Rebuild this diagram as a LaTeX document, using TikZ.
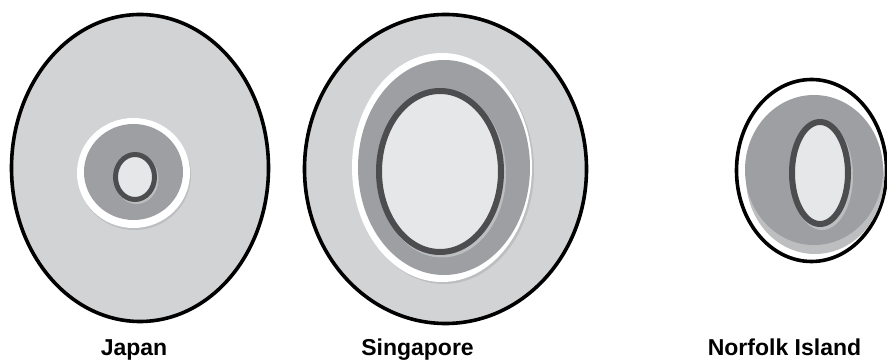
\documentclass[tikz,border=0pt]{standalone}
\usepackage{fontspec}
\setmainfont{Liberation Sans}
\definecolor{discgray}{RGB}{209,211,212}
\definecolor{midgray}{RGB}{157,159,162}
\definecolor{shadegray}{RGB}{188,190,192}
\definecolor{ringgray}{RGB}{77,77,79}
\definecolor{coregray}{RGB}{230,231,232}

\begin{document}
\begin{tikzpicture}[x=1pt, y=-1pt,
    outerdisc/.style={draw=black, line width=3.6pt, fill=discgray},
    whitedisc/.style={fill=white},
    shadedisc/.style={fill=shadegray},
    middisc/.style={fill=midgray},
    corering/.style={draw=ringgray, fill=coregray},
    country/.style={font=\fontsize{23}{26}\selectfont\bfseries, anchor=base}]
  \useasboundingbox (0,0) rectangle (887,363);
  \clip (0,0) rectangle (887,363);

  % Japan
  \draw[outerdisc] (140,168) ellipse [x radius=128.5, y radius=153.5];
  \fill[shadedisc] (134.5,175) ellipse [x radius=56.5, y radius=55];
  \fill[whitedisc] (133.5,173) ellipse [x radius=56.5, y radius=55];
  \fill[middisc] (133.5,172) ellipse [x radius=49.5, y radius=48];
  \fill[shadedisc] (136.5,179) ellipse [x radius=22, y radius=25];
  \draw[corering, line width=5pt] (135,177) ellipse [x radius=19.5, y radius=22.5];

  % Singapore
  \draw[outerdisc] (445.5,169) ellipse [x radius=141, y radius=154.5];
  \fill[shadedisc] (444,169.5) ellipse [x radius=90, y radius=114.5];
  \fill[whitedisc] (442,167.5) ellipse [x radius=90, y radius=114.5];
  \fill[middisc] (444,167.5) ellipse [x radius=86, y radius=107.5];
  \fill[shadedisc] (442,174) ellipse [x radius=64, y radius=83.5];
  \draw[corering, line width=6pt] (440,171.5) ellipse [x radius=61, y radius=80.5];

  % Norfolk Island
  \draw[draw=black, line width=3.6pt, fill=white] (811.5,170.5) ellipse [x radius=75, y radius=91];
  \fill[shadedisc] (815,178) ellipse [x radius=69, y radius=76];
  \fill[middisc] (814,170) ellipse [x radius=69, y radius=75];
  \fill[shadedisc] (822,176) ellipse [x radius=31, y radius=54];
  \draw[corering, line width=6pt] (820,173) ellipse [x radius=28, y radius=51];

  % labels
  \node[country] (japan) at (134,356) {Japan};
  \node[country] (singapore) at (417.5,356) {Singapore};
  \node[country] (norfolk) at (784.5,356) {Norfolk Island};
\end{tikzpicture}
\end{document}
